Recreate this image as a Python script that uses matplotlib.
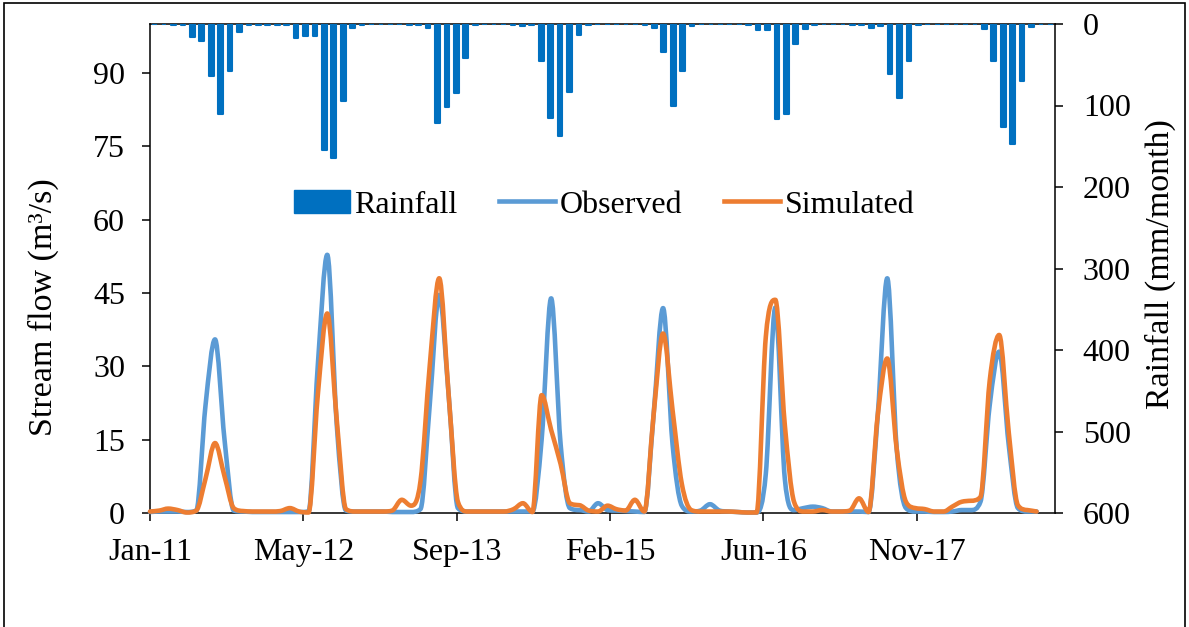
import numpy as np
import pandas as pd
import matplotlib
matplotlib.use("Agg")
import matplotlib.pyplot as plt
import matplotlib.dates as mdates
from matplotlib.path import Path
from matplotlib.patches import PathPatch, Rectangle, Patch
from matplotlib.lines import Line2D

plt.rcParams['font.family'] = ['Liberation Serif', 'DejaVu Serif']

# ---------------- data ----------------
months = pd.date_range('2011-01-01', periods=96, freq='MS')

rainfall = [0, 0, 1.5, 1.5, 16, 21, 64, 111, 58, 9.5, 1.5, 1.5,
            1.5, 1.5, 1.5, 17, 15, 15, 155, 165, 94, 5.5, 1.5, 0,
            0, 0, 0, 1.5, 1.5, 5.5, 121, 102, 85, 42, 1.5, 0,
            0, 0, 1.5, 2.5, 1.5, 46, 115, 137, 84, 14, 1.5, 0,
            0, 0, 0, 0, 1.5, 4.5, 34.5, 100, 58, 3, 0, 0,
            0, 0, 0, 1.5, 7, 7, 117, 111, 24, 6, 1.5, 0,
            0, 0, 1.5, 1.5, 4.5, 3, 61, 91, 45, 1.5, 0, 0,
            0, 0, 0, 0, 6, 45, 126, 147, 70, 3.5, 0, 0]

observed = [0.2, 0.3, 0.3, 0.3, 0.2, 0.5, 22, 35.5, 15, 0.5, 0.3, 0.2,
            0.2, 0.2, 0.2, 0.2, 0.2, 0.3, 30, 52.8, 18, 0.5, 0.3, 0.3,
            0.3, 0.3, 0.2, 0.2, 0.2, 0.8, 22, 44.6, 24, 1.0, 0.3, 0.3,
            0.3, 0.3, 0.3, 0.3, 0.3, 0.3, 15, 43.9, 14, 1.0, 0.6, 0.3,
            2.0, 0.6, 0.5, 0.4, 0.3, 0.2, 20, 41.9, 14, 1.5, 0.3, 0.5,
            1.8, 0.5, 0.3, 0.2, 0.1, 0.1, 8, 42, 7, 0.6, 1.0, 1.3,
            1.0, 0.3, 0.3, 0.3, 0.3, 0.2, 20, 48, 13, 1.0, 0.3, 0.3,
            0.2, 0.2, 0.3, 0.6, 0.6, 2.3, 22, 33, 14, 1.0, 0.3, 0.3]

simulated = [0.3, 0.5, 0.9, 0.6, 0.1, 0.5, 7, 14.3, 7.5, 1.0, 0.4, 0.3,
             0.3, 0.3, 0.4, 1.0, 0.3, 0.1, 24, 40.8, 19, 0.8, 0.3, 0.3,
             0.3, 0.3, 0.5, 2.7, 1.5, 6.5, 30, 48, 24, 2.3, 0.3, 0.3,
             0.3, 0.3, 0.3, 0.8, 2.0, 0.2, 24.1, 17, 10, 2.0, 1.6, 0.5,
             0.3, 1.5, 0.8, 0.5, 2.7, 0.3, 20, 36.7, 21, 6, 0.6, 0.3,
             0.3, 0.3, 0.3, 0.2, 0.1, 0.1, 36, 43.6, 18, 2.3, 0.3, 0.3,
             0.6, 0.3, 0.3, 0.5, 3.0, 0.2, 20, 31.6, 13, 2.3, 1.0, 0.8,
             0.3, 0.3, 1.3, 2.3, 2.5, 3.3, 27, 36.4, 16.6, 1.6, 0.6, 0.3]

flow_ticks = [0, 15, 30, 45, 60, 75, 90]
rain_ticks = [0, 100, 200, 300, 400, 500, 600]

BLUE_BAR = '#0070C0'
OBS_C = '#5B9BD5'
SIM_C = '#ED7D31'
FS = 23
LFS = 24.5


def smooth_path(x, y):
    """Smoothed line drawn as cubic Bezier segments through every data point
    (monotone Fritsch-Carlson tangents, so no overshoot below the data)."""
    x = np.asarray(x, float)
    y = np.asarray(y, float)
    n = len(x)
    h = np.diff(x)
    d = np.diff(y) / h
    m = np.zeros(n)
    m[0], m[-1] = d[0], d[-1]
    for i in range(1, n - 1):
        if d[i - 1] * d[i] <= 0:
            m[i] = 0.0
        else:
            m[i] = (d[i - 1] + d[i]) / 2.0
    for i in range(n - 1):
        if d[i] == 0:
            m[i] = m[i + 1] = 0.0
            continue
        a, b = m[i] / d[i], m[i + 1] / d[i]
        s = a * a + b * b
        if s > 9:
            t = 3.0 / np.sqrt(s)
            m[i], m[i + 1] = t * a * d[i], t * b * d[i]
    verts = [(x[0], y[0])]
    codes = [Path.MOVETO]
    for i in range(n - 1):
        verts += [(x[i] + h[i] / 3, y[i] + m[i] * h[i] / 3),
                  (x[i + 1] - h[i] / 3, y[i + 1] - m[i + 1] * h[i] / 3),
                  (x[i + 1], y[i + 1])]
        codes += [Path.CURVE4] * 3
    return Path(verts, codes)


fig = plt.figure(figsize=(11.89, 6.27), dpi=100)
rect = [150 / 1189, 1 - 513 / 627, 905 / 1189, 489 / 627]
ax = fig.add_axes(rect)

xnum = mdates.date2num(months)
start = mdates.date2num(pd.Timestamp('2011-01-01'))
ax.set_xlim(start, start + 2951)
ax.set_ylim(0, 100)

for vals, col in [(observed, OBS_C), (simulated, SIM_C)]:
    pp = PathPatch(smooth_path(xnum, vals), facecolor='none', edgecolor=col,
                   lw=3.3, capstyle='round', joinstyle='round', zorder=3,
                   clip_on=False)
    ax.add_patch(pp)

ax.set_yticks(flow_ticks)
ax.set_xticks([start + 500 * k for k in range(6)])
ax.xaxis.set_major_formatter(mdates.DateFormatter('%b-%y'))
ax.tick_params(axis='both', direction='out', length=6, width=1.1,
               labelsize=FS, colors='black')
ax.tick_params(axis='y', pad=12)
ax.tick_params(axis='x', pad=12)
ax.set_ylabel('Stream flow (m³/s)', fontsize=LFS)
ax.yaxis.set_label_coords(-0.100, 0.42)
for s in ['left', 'bottom', 'top']:
    ax.spines[s].set_linewidth(1.1)
    ax.spines[s].set_color('black')
ax.spines['right'].set_visible(False)

# rainfall bars on their own (category) axes, inverted
ax2 = fig.add_axes(rect)
ax2.patch.set_visible(False)
idx = np.arange(len(rainfall))
ax2.bar(idx, rainfall, width=0.5, color=BLUE_BAR, edgecolor=BLUE_BAR,
        linewidth=1.5, joinstyle='round', zorder=2)
ax2.set_xlim(-0.5, len(rainfall) - 0.5)
ax2.set_ylim(600, 0)
ax2.set_yticks(rain_ticks)
ax2.yaxis.tick_right()
ax2.yaxis.set_label_position('right')
ax2.xaxis.set_visible(False)
ax2.tick_params(axis='y', direction='out', length=6, width=1.1,
                labelsize=FS, pad=14)
ax2.set_ylabel('Rainfall (mm/month)', fontsize=LFS)
ax2.yaxis.set_label_coords(1.099, 0.51)
for s in ['left', 'bottom', 'top']:
    ax2.spines[s].set_visible(False)
ax2.spines['right'].set_linewidth(1.1)

handles = [Patch(facecolor=BLUE_BAR, edgecolor=BLUE_BAR),
           Line2D([], [], color=OBS_C, lw=3.3),
           Line2D([], [], color=SIM_C, lw=3.3)]
ax2.legend(handles, ['Rainfall', 'Observed', 'Simulated'], ncol=3,
           loc='center', bbox_to_anchor=(0.5017, 0.63), frameon=False,
           fontsize=FS, handlelength=1.75, handleheight=0.7,
           handletextpad=0.15, columnspacing=1.3, borderaxespad=0)

# outer border
fig.patches.append(Rectangle((3.5 / 1189, -0.02), 1181 / 1189, 1.02 - 3.5 / 627,
                             transform=fig.transFigure, fill=False,
                             edgecolor='black', lw=1.2))

fig.savefig('out.png', dpi=100)
